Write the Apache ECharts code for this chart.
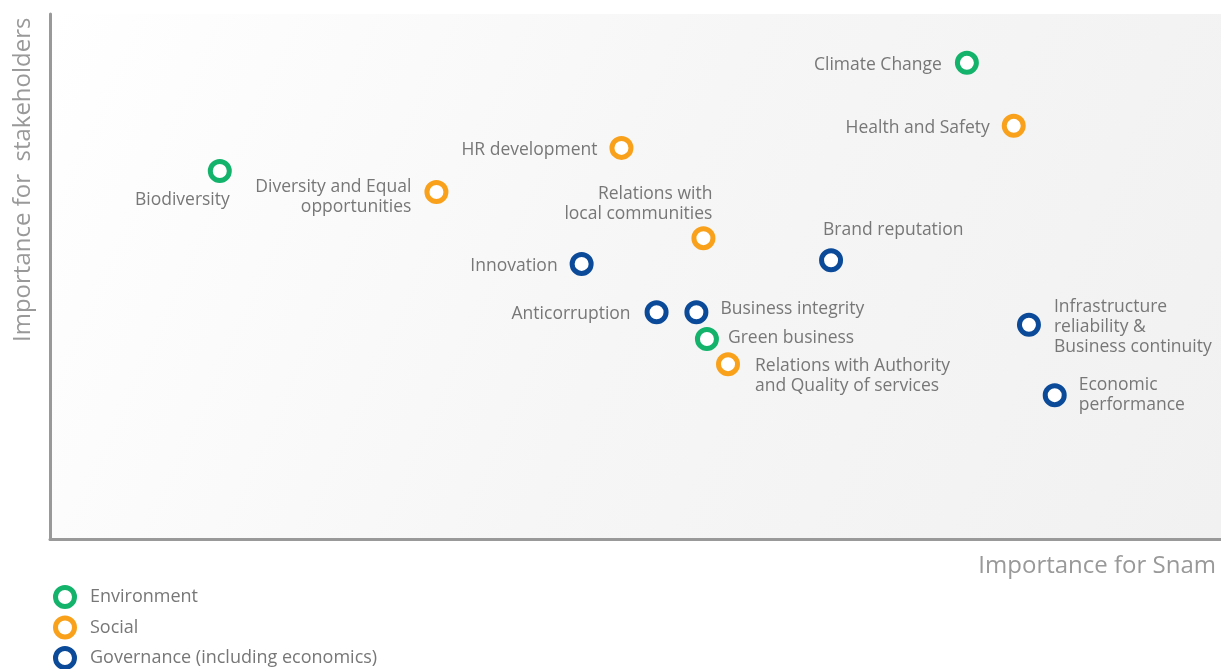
<!DOCTYPE html>
<html>
<head>
<meta charset="utf-8">
<script src="https://cdn.jsdelivr.net/npm/echarts@6/dist/echarts.min.js"></script>
<style>
  html, body { margin: 0; padding: 0; background: #fff; }
  #chart { width: 1221px; height: 669px; }
</style>
</head>
<body>
<div id="chart"></div>
<script>
// materiality topics: importance for Snam (x) vs importance for stakeholders (y)
const groups = ['Environment', 'Social', 'Governance (including economics)']

const envNames = ['Climate Change', 'Biodiversity', 'Green business']
const envX = [7.83, 1.45, 5.61]
const envY = [9.07, 7.01, 3.81]

const socialNames = ['Health and Safety', 'HR development', 'Diversity and Equal\nopportunities',
  'Relations with\nlocal communities', 'Relations with Authority\nand Quality of services']
const socialX = [8.23, 4.88, 3.30, 5.58, 5.79]
const socialY = [7.87, 7.45, 6.61, 5.73, 3.33]

const govNames = ['Brand reputation', 'Innovation', 'Anticorruption', 'Business integrity',
  'Infrastructure\nreliability &\nBusiness continuity', 'Economic\nperformance']
const govX = [6.67, 4.54, 5.18, 5.52, 8.36, 8.58]
const govY = [5.31, 5.24, 4.32, 4.32, 4.08, 2.74]

const colors = ['#13b36c', '#f9a11b', '#0b4a98']

// where each label sits relative to its marker
const labelPlace = {
  'Climate Change': { position: 'left', distance: 13 },
  'Health and Safety': { position: 'left', distance: 12 },
  'HR development': { position: 'left', distance: 12 },
  'Biodiversity': { position: [22, 31], align: 'right', verticalAlign: 'top' },
  'Diversity and Equal\nopportunities': { position: [-13, -3], align: 'right', verticalAlign: 'top' },
  'Relations with\nlocal communities': { position: [21, -2], align: 'right', verticalAlign: 'bottom' },
  'Brand reputation': { position: [4, -8], align: 'left', verticalAlign: 'bottom' },
  'Innovation': { position: 'left', distance: 12 },
  'Anticorruption': { position: 'left', distance: 14 },
  'Business integrity': { position: [36, 9], align: 'left', verticalAlign: 'middle' },
  'Green business': { position: [33, 11], align: 'left', verticalAlign: 'middle' },
  'Relations with Authority\nand Quality of services': { position: [39, 4], align: 'left', verticalAlign: 'top' },
  'Infrastructure\nreliability &\nBusiness continuity': { position: [37, -16], align: 'left', verticalAlign: 'top' },
  'Economic\nperformance': { position: 'right', distance: 12, offset: [0, 0] }
}

const font = '"Open Sans", "Noto Sans", sans-serif'

const toPoints = (names, xs, ys) => names.map((n, i) => {
  const place = labelPlace[n]
  const shift = Array.isArray(place.position) ? [0, 0] : [0, 2]
  return {
    name: n,
    value: [xs[i], ys[i]],
    label: Object.assign({ show: true, offset: shift }, place)
  }
})

const makeSeries = (i, names, xs, ys) => ({
  name: groups[i],
  type: 'scatter',
  symbol: 'circle',
  symbolSize: 19,
  itemStyle: { color: '#fff', borderColor: colors[i], borderWidth: 5, opacity: 1 },
  label: {
    formatter: '{b}',
    color: '#777',
    fontFamily: font,
    fontSize: 17.5,
    lineHeight: 20
  },
  emphasis: { disabled: true },
  data: toPoints(names, xs, ys)
})

const chart = echarts.init(document.getElementById('chart'))

chart.setOption({
  animation: false,
  grid: {
    left: 50, top: 14, right: 0, bottom: 130,
    show: true,
    borderWidth: 0,
    backgroundColor: new echarts.graphic.LinearGradient(0, 0, 1, 1, [
      { offset: 0, color: '#ffffff' },
      { offset: 0.5, color: '#f6f6f6' },
      { offset: 1, color: '#f1f1f1' }
    ])
  },
  xAxis: {
    type: 'value', min: 0, max: 10,
    axisLine: { show: true, onZero: false, lineStyle: { color: '#999', width: 3 } },
    axisTick: { show: false }, axisLabel: { show: false }, splitLine: { show: false }
  },
  yAxis: {
    type: 'value', min: 0, max: 10,
    axisLine: { show: true, onZero: false, lineStyle: { color: '#999', width: 3 } },
    axisTick: { show: false }, axisLabel: { show: false }, splitLine: { show: false }
  },
  legend: {
    orient: 'vertical',
    left: 53, top: 585, height: 120,
    padding: 0,
    itemWidth: 40, itemHeight: 19, itemGap: 6.5,
    selectedMode: false,
    textStyle: { color: '#777', fontFamily: font, fontSize: 18, lineHeight: 19 },
    data: groups.map((g, i) => ({
      name: g,
      icon: 'circle',
      itemStyle: { color: '#fff', borderColor: colors[i], borderWidth: 5 }
    }))
  },
  graphic: [
    {
      type: 'text', right: 5, top: 554,
      style: { text: 'Importance for Snam', fill: '#999', font: '24px ' + font }
    },
    {
      type: 'text', x: 11, y: 342, rotation: Math.PI / 2,
      style: { text: 'Importance for  stakeholders', fill: '#999', font: '24px ' + font }
    }
  ],
  series: [
    makeSeries(0, envNames, envX, envY),
    makeSeries(1, socialNames, socialX, socialY),
    makeSeries(2, govNames, govX, govY)
  ]
})
</script>
</body>
</html>
